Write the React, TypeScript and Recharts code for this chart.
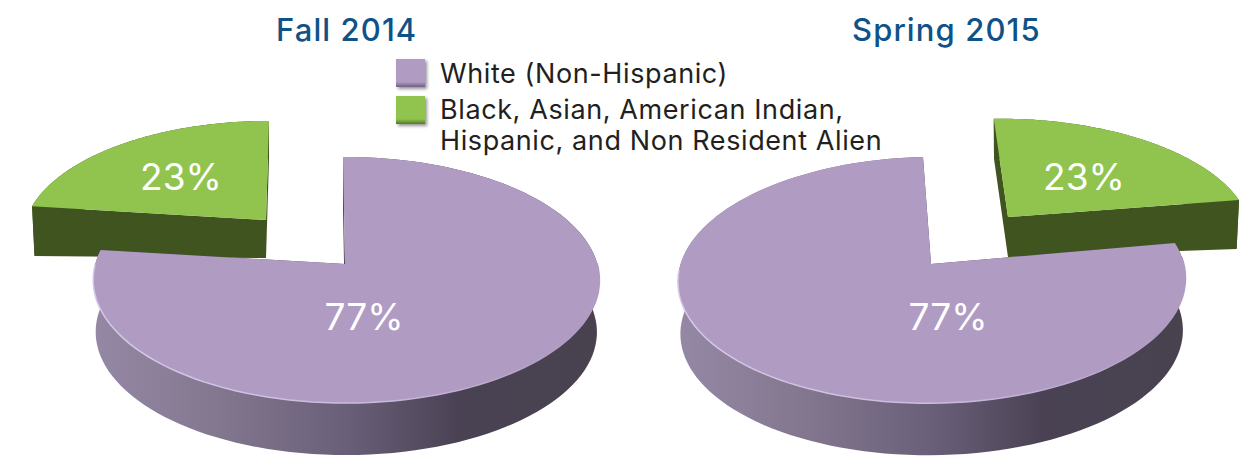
import React from "react"
import { PieChart, Pie } from "recharts"

const categories = ["Black, Asian, American Indian, Hispanic, and Non Resident Alien", "White (Non-Hispanic)"]
const fall2014 = [23, 77]
const spring2015 = [23, 77]
const titles = ["Fall 2014", "Spring 2015"]

const toRows = (values: number[]) => categories.map((name, i) => ({ name, value: values[i] }))

const FONT = "Inter, 'Open Sans', sans-serif"
const W = 1255
const H = 462
const PERSPECTIVE = 0.13

type Geom = {
  dx: number; dy: number; r: number; rRight: number; ry: number; sx: number; e: number
  depth: number; depthU: number; top: string; wall: string; rim?: string
  labelDx: number; labelDy: number
}

const leftGeom: Geom[] = [
  { dx: -79, dy: -44, r: 240, rRight: 240, ry: 112, sx: 3.4, e: 0, depth: 38, depthU: -12, top: "#90c44f", wall: "#40541f", labelDx: -85, labelDy: -44 },
  { dx: 0, dy: 0, r: 250, rRight: 252, ry: 121, sx: -2.3, e: -1, depth: 52, depthU: 0, top: "#b09bc3", wall: "url(#purpleWall)", rim: "url(#rimGlow)", labelDx: 19, labelDy: 52 },
]
const rightGeom: Geom[] = [
  { dx: 77, dy: -47, r: 238.6, rRight: 238.6, ry: 111, sx: -16, e: -3.4, depth: 40, depthU: 9, top: "#90c44f", wall: "#40541f", labelDx: 76, labelDy: -41 },
  { dx: 0, dy: 0, r: 252, rRight: 251, ry: 121, sx: -9, e: -6.3, depth: 52, depthU: 0, top: "#b09bc3", wall: "url(#purpleWall)", rim: "url(#rimGlow)", labelDx: 17, labelDy: 52 },
]

// flat disc -> picture, the far side of the pie is foreshortened
function project(g: Geom, cx: number, cy: number, u: number, v: number) {
  const d = 1 + PERSPECTIVE * v
  const r = u > 0 ? g.rRight : g.r
  return {
    x: cx + g.dx + (r * u + g.sx * v) / d,
    y: cy + g.dy + (-g.ry * v + g.e * u) / d,
  }
}

const toPath = (pts: { x: number; y: number }[]) =>
  pts.map((p, i) => `${i ? "L" : "M"}${p.x.toFixed(1)} ${p.y.toFixed(1)}`).join(" ")

function makeShape(geoms: Geom[]) {
  return function SliceShape(props: any) {
    const { cx, cy, startAngle, endAngle, index } = props
    const g = geoms[index]
    const pts: { x: number; y: number; u: number; v: number }[] = []
    const n = 120
    for (let i = 0; i <= n; i++) {
      const a = ((startAngle + ((endAngle - startAngle) * i) / n) * Math.PI) / 180
      const u = Math.cos(a)
      const v = Math.sin(a)
      pts.push({ ...project(g, cx, cy, u, v), u, v })
    }
    const hub = project(g, cx, cy, 0, 0)
    // the bottom plane sits a little narrower than the top one
    const down = (p: { x: number; y: number }, u: number) => ({
      x: hub.x + (p.x - hub.x) * 0.99,
      y: p.y + g.depth + g.depthU * u,
    })
    const arcBottom = pts.map((p) => down(p, p.u)).reverse()
    const first = pts[0]
    const last = pts[pts.length - 1]
    const rim = pts.filter((p) => p.v < 0.02)
    return (
      <g>
        <path d={toPath([...pts, ...arcBottom]) + " Z"} fill={g.wall} />
        <path d={toPath([hub, first, down(first, first.u), down(hub, 0)]) + " Z"} fill={g.rim ? "#4a4356" : g.wall} />
        <path d={toPath([hub, last, down(last, last.u), down(hub, 0)]) + " Z"} fill={g.rim ? "#4a4356" : g.wall} />
        <path d={toPath([hub, ...pts]) + " Z"} fill={g.top} />
        {g.rim && rim.length > 1 && <path d={toPath(rim)} fill="none" stroke={g.rim} strokeWidth={1.5} />}
      </g>
    )
  }
}

function makeLabel(geoms: Geom[]) {
  return function SliceLabel(props: any) {
    const { cx, cy, index, percent } = props
    const g = geoms[index]
    return (
      <text
        x={cx + g.dx + g.labelDx}
        y={cy + g.dy + g.labelDy}
        textAnchor="middle"
        dominantBaseline="central"
        fill="#ffffff"
        fontFamily={FONT}
        fontSize={37}
      >
        {`${Math.round(percent * 100)}%`}
      </text>
    )
  }
}

function Swatch({ top, color, edge }: { top: number; color: string; edge: string }) {
  return (
    <div
      style={{
        position: "absolute",
        left: 396,
        top,
        width: 29,
        height: 28,
        background: `linear-gradient(${color} 82%, ${edge})`,
        boxShadow: "2px 2px 3px rgba(60,60,60,0.55)",
      }}
    />
  )
}

function LegendText({ top, children }: { top: number; children: string }) {
  return (
    <div
      style={{
        position: "absolute",
        left: 440,
        top,
        fontFamily: FONT,
        fontSize: 27,
        letterSpacing: 0.6,
        lineHeight: "30px",
        color: "#231f20",
        whiteSpace: "nowrap",
      }}
    >
      {children}
    </div>
  )
}

function Title({ left, children }: { left: number; children: string }) {
  return (
    <div
      style={{
        position: "absolute",
        left,
        top: 11,
        fontFamily: FONT,
        fontSize: 31,
        letterSpacing: 1.1,
        fontWeight: 500,
        lineHeight: "38px",
        color: "#0f5288",
        whiteSpace: "nowrap",
      }}
    >
      {children}
    </div>
  )
}

export default function App() {
  return (
    <div style={{ position: "absolute", left: 0, top: 0, width: W, height: H, background: "#fff", overflow: "hidden" }}>
      <PieChart width={W} height={H} margin={{ top: 0, right: 0, bottom: 0, left: 0 }}>
        <defs>
          <linearGradient id="purpleWall" x1="0" y1="0" x2="1" y2="0">
            <stop offset="0%" stopColor="#9488a5" />
            <stop offset="25%" stopColor="#83778f" />
            <stop offset="50%" stopColor="#6a5f79" />
            <stop offset="72%" stopColor="#4a4254" />
            <stop offset="100%" stopColor="#48424f" />
          </linearGradient>
          <linearGradient id="rimGlow" x1="0" y1="0" x2="1" y2="0">
            <stop offset="0%" stopColor="#d6c9e6" />
            <stop offset="55%" stopColor="#cabbdc" />
            <stop offset="95%" stopColor="#b09bc3" />
          </linearGradient>
        </defs>
        <Pie
          data={toRows(fall2014)}
          dataKey="value"
          nameKey="name"
          cx={345}
          cy={264}
          outerRadius={250}
          startAngle={90 + (fall2014[0] / 100) * 360}
          endAngle={90 + (fall2014[0] / 100) * 360 - 360}
          shape={makeShape(leftGeom)}
          label={makeLabel(leftGeom)}
          labelLine={false}
          isAnimationActive={false}
        />
        <Pie
          data={toRows(spring2015)}
          dataKey="value"
          nameKey="name"
          cx={931}
          cy={264}
          outerRadius={250}
          startAngle={90}
          endAngle={-270}
          shape={makeShape(rightGeom)}
          label={makeLabel(rightGeom)}
          labelLine={false}
          isAnimationActive={false}
        />
      </PieChart>
      <Title left={276}>{titles[0]}</Title>
      <Title left={852}>{titles[1]}</Title>
      <Swatch top={59} color="#b09bc3" edge="#6f5f85" />
      <Swatch top={96} color="#90c44f" edge="#4f7a25" />
      <LegendText top={59}>{categories[1]}</LegendText>
      <LegendText top={95}>Black, Asian, American Indian,</LegendText>
      <LegendText top={126}>Hispanic, and Non Resident Alien</LegendText>
    </div>
  )
}
